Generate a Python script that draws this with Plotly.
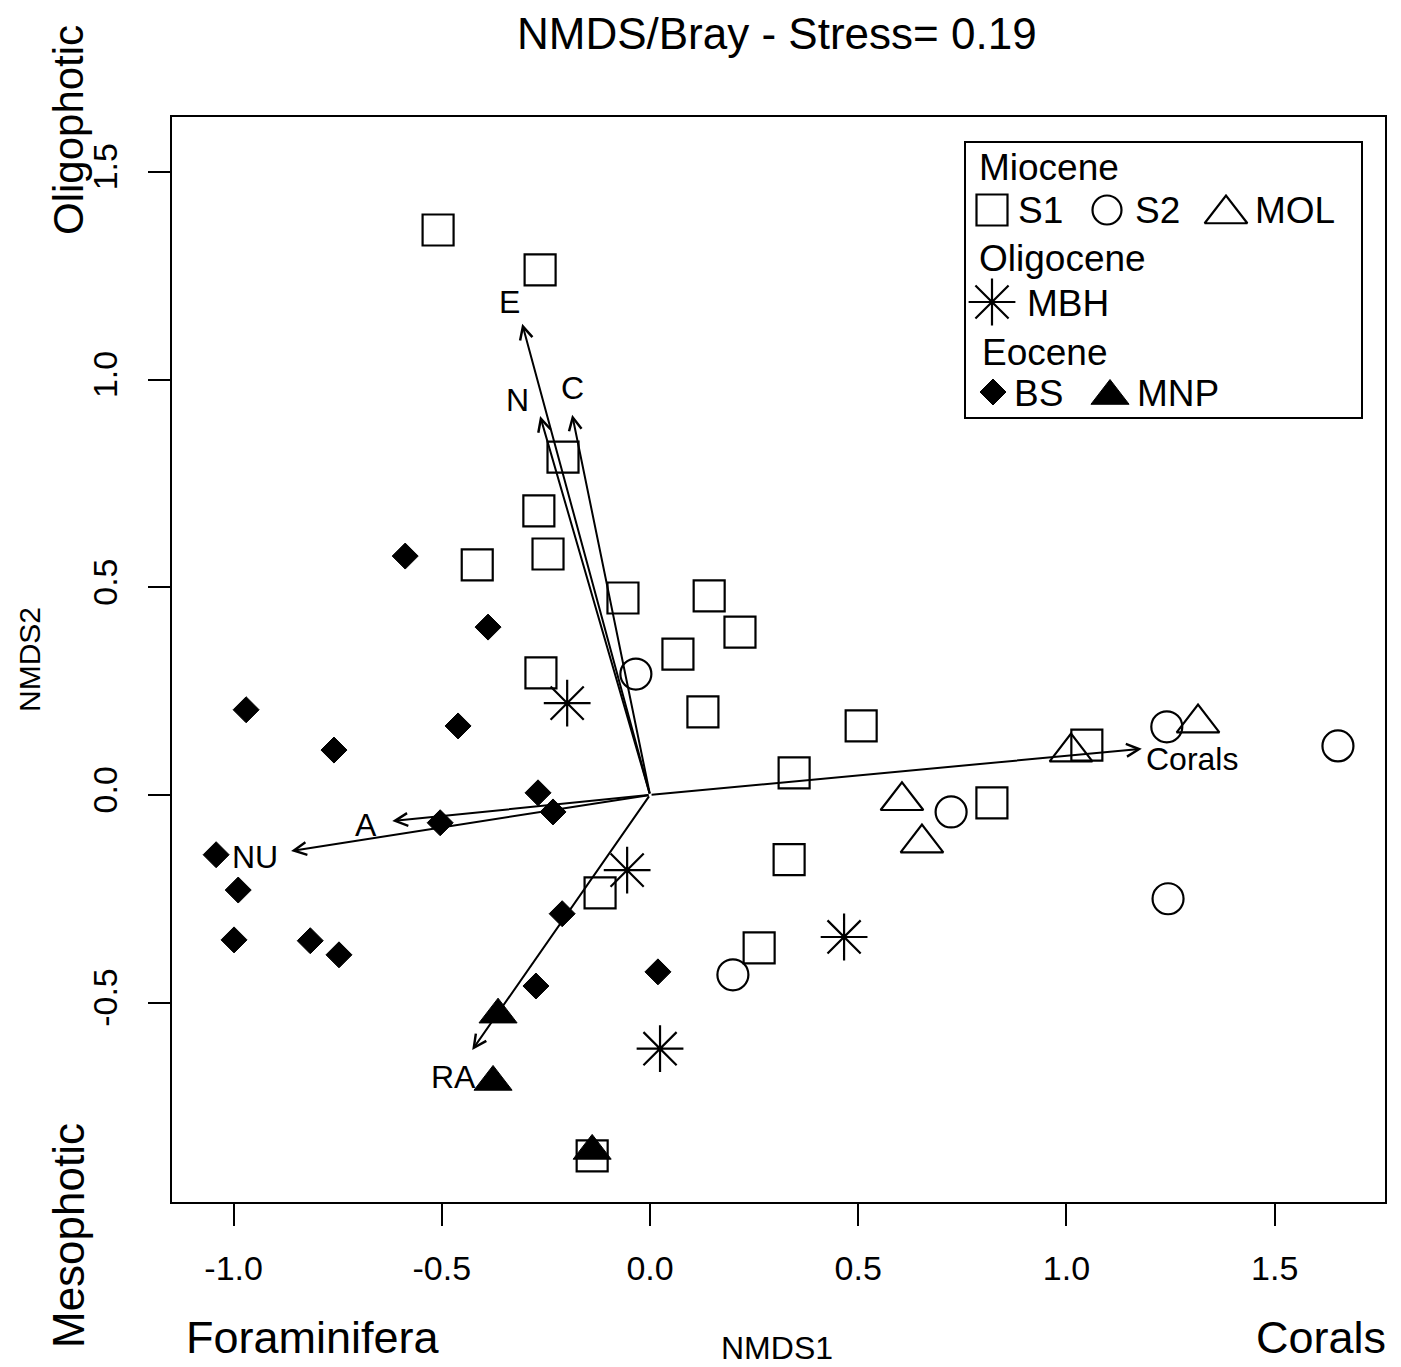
import plotly.graph_objects as go

FONT = "Liberation Sans, Arial, Helvetica, sans-serif"
W, H = 1401, 1367
PL, PR, PT, PB = 172, 1385, 117, 1202  # plot box in pixels

# ---------------- data ----------------
s1_x = [-0.509, -0.264, -0.209, -0.267, -0.245, -0.415, -0.065, 0.142, 0.216, 0.067,
        -0.262, 0.127, 0.507, 1.049, 0.346, 0.821, 0.334, -0.120, 0.262, -0.139]
s1_y = [1.360, 1.264, 0.813, 0.684, 0.580, 0.554, 0.474, 0.479, 0.392, 0.339,
        0.294, 0.200, 0.166, 0.120, 0.053, -0.019, -0.156, -0.236, -0.368, -0.869]

s2_x = [-0.034, 1.241, 1.652, 0.723, 1.244, 0.199]
s2_y = [0.291, 0.164, 0.118, -0.041, -0.250, -0.433]

mol_x = [1.316, 1.011, 0.605, 0.653]
mol_y = [0.173, 0.103, -0.014, -0.116]

mbh_x = [-0.199, -0.055, 0.466, 0.024]
mbh_y = [0.221, -0.181, -0.342, -0.611]

bs_x = [-0.588, -0.389, -0.970, -0.461, -0.759, -0.269, -0.233, -0.504, -1.042, -0.989,
        -0.999, -0.816, -0.747, -0.211, -0.274, 0.019]
bs_y = [0.575, 0.404, 0.205, 0.166, 0.108, 0.005, -0.041, -0.067, -0.144, -0.229,
        -0.349, -0.351, -0.385, -0.286, -0.460, -0.426]

mnp_x = [-0.365, -0.377, -0.139]
mnp_y = [-0.529, -0.691, -0.857]

vec_names = ["E", "N", "C", "Corals", "A", "NU", "RA"]
vec_x = [-0.307, -0.264, -0.187, 1.181, -0.619, -0.862, -0.427]
vec_y = [1.134, 0.912, 0.915, 0.111, -0.063, -0.135, -0.614]

x_ticks = [-1.0, -0.5, 0.0, 0.5, 1.0, 1.5]
x_tick_text = ["-1.0", "-0.5", "0.0", "0.5", "1.0", "1.5"]
y_ticks = [-0.5, 0.0, 0.5, 1.0, 1.5]
y_tick_text = ["-0.5", "0.0", "0.5", "1.0", "1.5"]

x_range = [-1.148, 1.765]
y_range = [-0.980, 1.632]

# label offsets (pixels) relative to arrow tips
label_style = {
    "E": dict(xshift=-13, yshift=22),
    "N": dict(xshift=-23, yshift=16),
    "C": dict(xshift=0, yshift=27),
    "Corals": dict(xshift=2, yshift=-10, xanchor="left"),
    "A": dict(xshift=-26, yshift=-4),
    "NU": dict(xshift=-36, yshift=-6),
    "RA": dict(xshift=-19, yshift=-27),
}


def px_x(px):
    return (px - PL) / (PR - PL)


def px_y(py):
    return (PB - py) / (PB - PT)


fig = go.Figure()

LW = 2.2
fig.add_trace(go.Scatter(x=s1_x, y=s1_y, mode="markers", name="S1",
                         marker=dict(symbol="square-open", size=31, color="black", line=dict(width=LW))))
fig.add_trace(go.Scatter(x=s2_x, y=s2_y, mode="markers", name="S2",
                         marker=dict(symbol="circle-open", size=31, color="black", line=dict(width=LW))))
fig.add_trace(go.Scatter(x=mol_x, y=mol_y, mode="markers", name="MOL",
                         marker=dict(symbol="triangle-up-open", size=37, color="black", line=dict(width=LW))))
fig.add_trace(go.Scatter(x=mbh_x, y=mbh_y, mode="markers", name="MBH",
                         marker=dict(symbol="asterisk-open", size=39, color="black", line=dict(width=LW))))
fig.add_trace(go.Scatter(x=bs_x, y=bs_y, mode="markers", name="BS",
                         marker=dict(symbol="diamond", size=20, color="black", line=dict(width=1, color="black"))))
fig.add_trace(go.Scatter(x=mnp_x, y=mnp_y, mode="markers", name="MNP",
                         marker=dict(symbol="triangle-up", size=33, color="black", line=dict(width=1, color="black"))))

annotations = []
# arrows and their labels
for name, vx, vy in zip(vec_names, vec_x, vec_y):
    annotations.append(dict(x=vx, y=vy, ax=0, ay=0, xref="x", yref="y", axref="x", ayref="y",
                            text="", showarrow=True, arrowhead=5, arrowsize=1.25, arrowwidth=2,
                            arrowcolor="black", standoff=0, startstandoff=0))
    st = label_style[name]
    annotations.append(dict(x=vx, y=vy, xref="x", yref="y", text=name, showarrow=False,
                            xanchor=st.get("xanchor", "center"), yanchor="middle",
                            xshift=st["xshift"], yshift=st["yshift"],
                            font=dict(family=FONT, size=32, color="black")))

# legend (drawn in a pixel-scaled overlay axis)
leg_text = [
    ("Miocene", 977, 167), ("S1", 1016, 210), ("S2", 1133, 210), ("MOL", 1253, 210),
    ("Oligocene", 977, 258), ("MBH", 1025, 303), ("Eocene", 980, 352),
    ("BS", 1012, 393), ("MNP", 1135, 393),
]
for t, lx, ly in leg_text:
    annotations.append(dict(x=lx, y=ly, xref="x2", yref="y2", text=t, showarrow=False,
                            xanchor="left", yanchor="middle",
                            font=dict(family=FONT, size=37, color="black")))

leg_markers = [
    (992, 210, "square-open", 31, LW), (1107, 210, "circle-open", 29, LW),
    (1226, 214, "triangle-up-open", 37, LW), (992, 302, "asterisk-open", 39, LW),
    (993, 392, "diamond", 20, 1), (1110, 396, "triangle-up", 33, 1),
]
for mx, my, sym, sz, lw in leg_markers:
    fig.add_trace(go.Scatter(x=[mx], y=[my], xaxis="x2", yaxis="y2", mode="markers",
                             showlegend=False, hoverinfo="skip",
                             marker=dict(symbol=sym, size=sz, color="black",
                                         line=dict(width=lw, color="black"))))

# outer texts
outer = [
    ("NMDS/Bray - Stress= 0.19", 777, 33, 0, 44),
    ("NMDS1", 777, 1348, 0, 32),
    ("NMDS2", 29, 660, -90, 30),
    ("Oligophotic", 68, 130, -90, 42),
    ("Mesophotic", 68, 1236, -90, 44),
    ("Foraminifera", 313, 1337, 0, 45),
    ("Corals", 1321, 1337, 0, 45),
]
for t, ox, oy, ang, fs in outer:
    annotations.append(dict(x=px_x(ox), y=px_y(oy), xref="paper", yref="paper", text=t,
                            showarrow=False, xanchor="center", yanchor="middle", textangle=ang,
                            font=dict(family=FONT, size=fs, color="black")))

fig.update_layout(
    width=W, height=H,
    margin=dict(l=PL, r=W - PR, t=PT, b=H - PB, pad=0),
    paper_bgcolor="white", plot_bgcolor="white",
    showlegend=False,
    annotations=annotations,
    shapes=[dict(type="rect", xref="x2", yref="y2", x0=965, x1=1362, y0=142, y1=418,
                 line=dict(color="black", width=2), fillcolor="white", layer="below")],
    xaxis=dict(range=x_range, tickvals=x_ticks, ticktext=x_tick_text, showgrid=False,
               zeroline=False, showline=True, linecolor="black", linewidth=2, mirror=True,
               ticks="outside", ticklen=22, tickwidth=2, tickcolor="black",
               ticklabelstandoff=13,
               tickfont=dict(family=FONT, size=34, color="black")),
    yaxis=dict(range=y_range, tickvals=y_ticks, ticktext=y_tick_text, showgrid=False,
               zeroline=False, showline=True, linecolor="black", linewidth=2, mirror=True,
               ticks="outside", ticklen=22, tickwidth=2, tickcolor="black", tickangle=-90,
               ticklabelstandoff=17,
               tickfont=dict(family=FONT, size=34, color="black")),
    xaxis2=dict(range=[PL, PR], overlaying="x", visible=False, fixedrange=True),
    yaxis2=dict(range=[PB, PT], overlaying="y", visible=False, fixedrange=True),
)

fig.write_html("out.html", config={"displayModeBar": False},
               post_script="document.body.style.margin='0';document.body.style.overflow='hidden';")
